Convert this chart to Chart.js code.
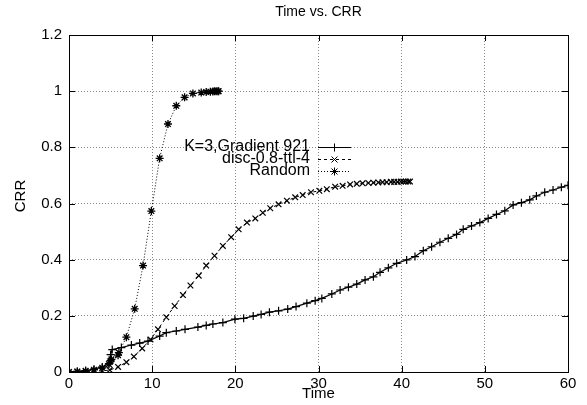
<!DOCTYPE html>
<html>
<head>
<meta charset="utf-8">
<script src="https://cdn.jsdelivr.net/npm/chart.js@4/dist/chart.umd.min.js"></script>
<style>
  html, body { margin: 0; padding: 0; background: #fff; }
  #wrap { width: 587px; height: 405px; position: relative; }
</style>
</head>
<body>
<div id="wrap"><canvas id="c" width="587" height="405"></canvas></div>
<script>
const chartTitle = 'Time vs. CRR';
const xTitle = 'Time';
const yTitle = 'CRR';
const seriesNames = ['K=3,Gradient 921', 'disc-0.8-ttl-4', 'Random'];
const xTickLabels = ['0', '10', '20', '30', '40', '50', '60'];
const yTickLabels = ['0', '0.2', '0.4', '0.6', '0.8', '1', '1.2'];

const kTime = [0,1,2,3,4,4.8,5,5.2,6.3,7.5,8.5,9.5,10.9,11.7,12.9,13.95,15.5,16.5,17.3,18.5,19.95,21,22.15,23.1,24.1,25.2,26.3,27.3,28.6,29.6,30.4,31.6,32.6,33.6,34.6,35.6,36.6,37.4,38.4,39.4,40.6,41.6,42.6,43.6,44.6,45.6,46.6,47.4,48.4,49.4,50.4,51.4,52.4,53.4,54.4,55.4,56.2,57.2,58.2,59.2,60];
const kCRR = [0,0.002,0.005,0.01,0.018,0.03,0.062,0.08,0.087,0.096,0.103,0.11,0.128,0.14,0.146,0.152,0.16,0.166,0.171,0.176,0.188,0.191,0.199,0.205,0.213,0.218,0.224,0.233,0.245,0.254,0.262,0.278,0.292,0.302,0.313,0.328,0.339,0.355,0.371,0.387,0.399,0.411,0.432,0.446,0.462,0.476,0.49,0.508,0.52,0.532,0.547,0.561,0.574,0.595,0.603,0.613,0.627,0.64,0.648,0.658,0.665];

const discTime = [0,1,2,3,4,4.9,5.9,6.9,7.8,8.8,9.8,10.7,11.7,12.7,13.7,14.6,15.6,16.5,17.5,18.5,19.5,20.4,21.4,22.4,23.3,24.2,25.2,26.2,27.2,28.1,29.1,30.1,31,32,32.9,33.8,34.6,35.3,36,36.6,37.2,37.7,38.2,38.7,39.1,39.5,39.9,40.2,40.5,40.8,41];
const discCRR = [0,0.001,0.002,0.003,0.004,0.007,0.018,0.035,0.055,0.084,0.116,0.152,0.195,0.235,0.274,0.308,0.343,0.379,0.414,0.449,0.48,0.508,0.532,0.547,0.567,0.583,0.597,0.61,0.622,0.63,0.64,0.645,0.651,0.66,0.663,0.668,0.67,0.672,0.673,0.674,0.675,0.676,0.676,0.677,0.677,0.677,0.678,0.678,0.678,0.678,0.678];

const randTime = [0,1,2,3,4,4.8,5,5.1,5.9,6,6.9,7.9,8.9,9.9,10.9,11.9,12.9,13.9,14.9,15.9,16.5,17,17.3,17.5,17.7,17.9,18];
const randCRR = [0,0.002,0.004,0.008,0.015,0.028,0.04,0.045,0.06,0.069,0.124,0.225,0.379,0.573,0.761,0.883,0.948,0.978,0.992,0.995,0.997,0.998,0.999,1,1,1,1];

function pts(xs, ys) { return xs.map((x, i) => ({ x: x, y: ys[i] })); }

const FONT = '"Liberation Sans", Arial, Helvetica, sans-serif';

function drawMarker(ctx, style, x, y, r) {
  ctx.beginPath();
  if (style === 'cross' || style === 'star') {
    ctx.moveTo(x - r, y); ctx.lineTo(x + r, y);
    ctx.moveTo(x, y - r); ctx.lineTo(x, y + r);
  }
  if (style === 'crossRot' || style === 'star') {
    const d = r * 0.75;
    ctx.moveTo(x - d, y - d); ctx.lineTo(x + d, y + d);
    ctx.moveTo(x - d, y + d); ctx.lineTo(x + d, y - d);
  }
  ctx.stroke();
}

const decor = {
  id: 'decor',
  afterDraw(chart) {
    const ctx = chart.ctx;
    const a = chart.chartArea;
    const xs = chart.scales.x, ys = chart.scales.y;
    ctx.save();
    ctx.strokeStyle = '#000';
    ctx.lineWidth = 1;
    ctx.setLineDash([]);
    ctx.beginPath();
    xs.ticks.forEach(t => {
      const px = Math.round(xs.getPixelForValue(t.value)) + 0.5;
      ctx.moveTo(px, a.bottom); ctx.lineTo(px, a.bottom - 6);
      ctx.moveTo(px, a.top); ctx.lineTo(px, a.top + 6);
    });
    ys.ticks.forEach(t => {
      const py = Math.round(ys.getPixelForValue(t.value)) + 0.5;
      ctx.moveTo(a.left, py); ctx.lineTo(a.left + 6, py);
      ctx.moveTo(a.right, py); ctx.lineTo(a.right - 6, py);
    });
    ctx.stroke();
    ctx.strokeRect(Math.round(a.left) + 0.5, Math.round(a.top) + 0.5,
                   Math.round(a.right - a.left), Math.round(a.bottom - a.top));
    ctx.fillStyle = '#000';
    ctx.textAlign = 'center';
    ctx.textBaseline = 'middle';
    ctx.font = '14px ' + FONT;
    ctx.fillText(chartTitle, (a.left + a.right) / 2, 12);
    ctx.font = '15px ' + FONT;
    ctx.fillText(xTitle, (a.left + a.right) / 2, 394);
    ctx.save();
    ctx.translate(21, 196);
    ctx.rotate(-Math.PI / 2);
    ctx.fillText(yTitle, 0, 0);
    ctx.restore();
    const rowY = [146.5, 158.5, 170.5];
    ctx.font = '16px ' + FONT;
    ctx.textAlign = 'right';
    chart.data.datasets.forEach((ds, i) => {
      const y = rowY[i];
      ctx.fillStyle = '#000';
      ctx.fillText(ds.label, 310, y);
      ctx.strokeStyle = '#000';
      ctx.lineWidth = 1;
      ctx.setLineDash(ds.borderDash || []);
      ctx.beginPath();
      ctx.moveTo(318, Math.round(y) + 0.5);
      ctx.lineTo(351, Math.round(y) + 0.5);
      ctx.stroke();
      ctx.setLineDash([]);
      drawMarker(ctx, ds.pointStyle, 334.5, Math.round(y) + 0.5, 4);
    });
    ctx.restore();
  }
};

const tickFont = { family: FONT, size: 15 };

new Chart(document.getElementById('c'), {
  type: 'scatter',
  data: {
    datasets: [
      { label: seriesNames[0], data: pts(kTime, kCRR), showLine: true,
        borderColor: '#000', backgroundColor: '#000', borderWidth: 1.2,
        pointStyle: 'cross', pointRadius: 4, pointBorderWidth: 1.2, borderDash: [] },
      { label: seriesNames[1], data: pts(discTime, discCRR), showLine: true,
        borderColor: '#000', backgroundColor: '#000', borderWidth: 1,
        pointStyle: 'crossRot', pointRadius: 4, pointBorderWidth: 1.2, borderDash: [3, 3] },
      { label: seriesNames[2], data: pts(randTime, randCRR), showLine: true,
        borderColor: '#000', backgroundColor: '#000', borderWidth: 1,
        pointStyle: 'star', pointRadius: 4, pointBorderWidth: 1.3, borderDash: [1, 2] }
    ]
  },
  options: {
    responsive: false,
    animation: false,
    events: [],
    layout: { padding: { left: 0, top: 35, right: 19, bottom: 0 } },
    plugins: { legend: { display: false }, title: { display: false }, tooltip: { enabled: false } },
    scales: {
      x: {
        type: 'linear', min: 0, max: 60,
        afterFit(s) { s.height = 33; },
        ticks: { stepSize: 10, color: '#000', font: tickFont, padding: 3, maxRotation: 0,
                 callback: (v, i) => xTickLabels[i] },
        grid: { color: '#888', lineWidth: 1, drawTicks: false },
        border: { display: false, dash: [1, 2] }
      },
      y: {
        type: 'linear', min: 0, max: 1.2,
        afterFit(s) { s.width = 69; },
        ticks: { stepSize: 0.2, color: '#000', font: tickFont, padding: 7,
                 callback: (v, i) => yTickLabels[i] },
        grid: { color: '#888', lineWidth: 1, drawTicks: false },
        border: { display: false, dash: [1, 2] }
      }
    }
  },
  plugins: [decor]
});
</script>
</body>
</html>
